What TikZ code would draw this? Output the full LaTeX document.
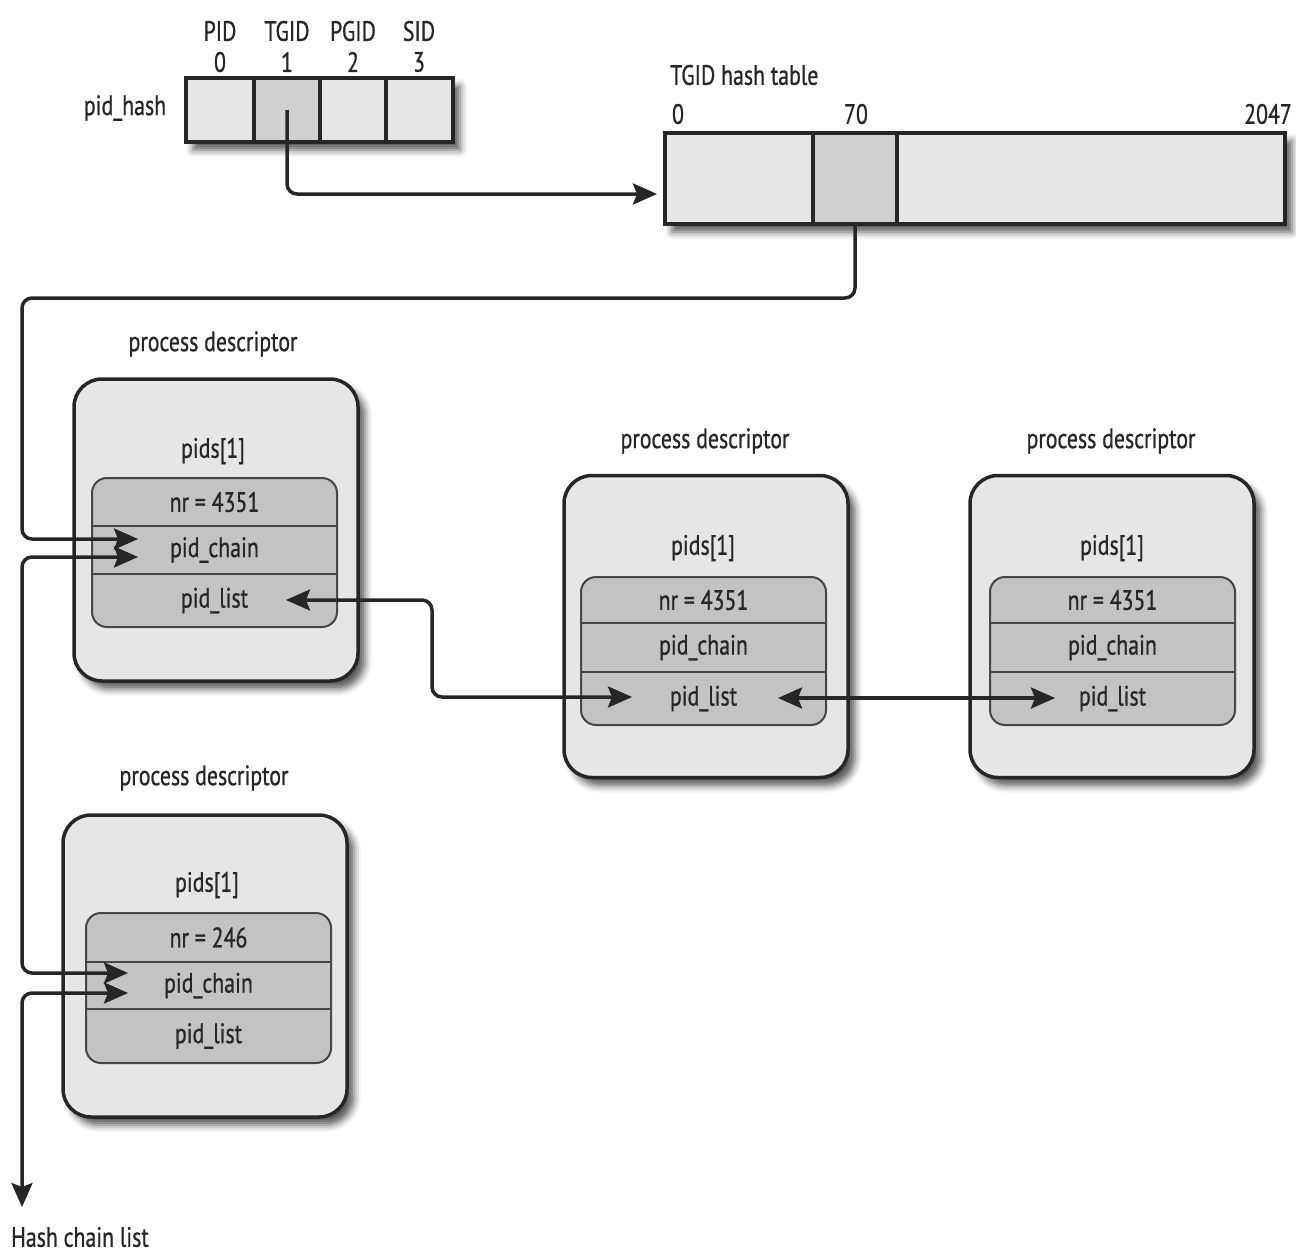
\documentclass[tikz,border=0pt]{standalone}
\usepackage{fontspec}
\setmainfont{PT Sans}[FakeStretch=0.78, FakeBold=0.8]
\usetikzlibrary{arrows.meta,shadows.blur}
\definecolor{boxfill}{HTML}{E6E6E6}
\definecolor{rowfill}{HTML}{C3C3C3}
\definecolor{selfill}{HTML}{D0D0D0}
\definecolor{ink}{HTML}{262626}
\tikzset{
  lbl/.style={font=\fontsize{28}{30}\selectfont, text=ink, inner sep=0pt},
  shad/.style={blur shadow={shadow xshift=7pt, shadow yshift=-8pt, shadow blur radius=7pt, shadow opacity=65}},
  cellbox/.style={draw=ink, line width=3.5pt, fill=boxfill, minimum height=64pt, inner sep=0pt},
  outerbox/.style={draw=ink, line width=3.5pt, fill=boxfill, rounded corners=28pt, minimum width=284pt, minimum height=302pt, inner sep=0pt, shad},
  innerbox/.style={draw=ink!85, line width=2pt, fill=rowfill, rounded corners=15pt, minimum width=245pt, inner sep=0pt},
  rowtxt/.style={lbl, minimum width=245pt},
  divider/.style={draw=ink!85, line width=2.2pt},
  conn/.style={draw=ink, line width=3.5pt, rounded corners=10pt},
  tip/.tip={Stealth[length=24pt, width=21pt, inset=4pt]}
}
\begin{document}
\begin{tikzpicture}[x=1pt, y=-1pt]
\useasboundingbox (0,0) rectangle (1296,1254);

% ---------- pid_hash ----------
\node[lbl] (hashlbl) at (125,108) {pid\_hash};
\node[draw=ink, line width=3.5pt, fill=boxfill, minimum width=267pt, minimum height=64pt, inner sep=0pt, shad] (hashbox) at (319.5,110) {};
\node[cellbox, minimum width=68pt] (h0) at (220,110) {};
\node[cellbox, minimum width=66pt, fill=selfill] (h1) at (287,110) {};
\node[cellbox, minimum width=66pt] (h2) at (353,110) {};
\node[cellbox, minimum width=67pt] (h3) at (419.5,110) {};
\node[lbl] (hl0) at (220,31) {PID};
\node[lbl] (hl1) at (287,31) {TGID};
\node[lbl] (hl2) at (353,31) {PGID};
\node[lbl] (hl3) at (419,31) {SID};
\node[lbl] (hn0) at (220,62) {0};
\node[lbl] (hn1) at (287,62) {1};
\node[lbl] (hn2) at (353,62) {2};
\node[lbl] (hn3) at (419,62) {3};

% ---------- TGID hash table ----------
\node[lbl, anchor=west] (ttitle) at (670,75) {TGID hash table};
\node[draw=ink, line width=3.5pt, fill=boxfill, minimum width=620pt, minimum height=91pt, inner sep=0pt, shad] (tab) at (975,178.5) {};
\node[cellbox, minimum width=148pt, minimum height=91pt] (t0) at (739,178.5) {};
\node[cellbox, minimum width=84pt, minimum height=91pt, fill=selfill] (t70) at (855,178.5) {};
\node[cellbox, minimum width=388pt, minimum height=91pt] (tend) at (1091,178.5) {};
\node[lbl] (tn0) at (678,114) {0};
\node[lbl] (tn70) at (856,114) {70};
\node[lbl] (tn2047) at (1268,114) {2047};

% ---------- process descriptor 1 ----------
\node[lbl] (pdl1) at (213,344) {process descriptor};
\node[outerbox] (pd1) at (216,530) {};
\node[lbl] (pids1) at (213,451) {pids[1]};
\node[innerbox, minimum height=149pt] (in1) at (214.5,552.5) {};
\node[rowtxt, minimum height=48pt] (nr1) at (214.5,502) {nr = 4351};
\node[rowtxt, minimum height=48pt] (ch1) at (214.5,550) {pid\_chain};
\node[rowtxt, minimum height=53pt] (li1) at (214.5,600.5) {pid\_list};
\draw[divider] (92,526) -- (337,526);
\draw[divider] (92,574) -- (337,574);

% ---------- process descriptor 2 ----------
\node[lbl] (pdl2) at (705,441) {process descriptor};
\node[outerbox] (pd2) at (706,626.5) {};
\node[lbl] (pids2) at (703,548) {pids[1]};
\node[innerbox, minimum height=148pt] (in2) at (703.5,651) {};
\node[rowtxt, minimum height=46pt] (nr2) at (703.5,600) {nr = 4351};
\node[rowtxt, minimum height=49pt] (ch2) at (703.5,647.5) {pid\_chain};
\node[rowtxt, minimum height=53pt] (li2) at (703.5,698.5) {pid\_list};
\draw[divider] (581,623) -- (826,623);
\draw[divider] (581,672) -- (826,672);

% ---------- process descriptor 3 ----------
\node[lbl] (pdl3) at (1111,441) {process descriptor};
\node[outerbox] (pd3) at (1112,626.5) {};
\node[lbl] (pids3) at (1112,548) {pids[1]};
\node[innerbox, minimum height=148pt] (in3) at (1112.5,651) {};
\node[rowtxt, minimum height=46pt] (nr3) at (1112.5,600) {nr = 4351};
\node[rowtxt, minimum height=49pt] (ch3) at (1112.5,647.5) {pid\_chain};
\node[rowtxt, minimum height=53pt] (li3) at (1112.5,698.5) {pid\_list};
\draw[divider] (990,623) -- (1235,623);
\draw[divider] (990,672) -- (1235,672);

% ---------- process descriptor 4 ----------
\node[lbl] (pdl4) at (204,778) {process descriptor};
\node[outerbox] (pd4) at (205,966) {};
\node[lbl] (pids4) at (207,885) {pids[1]};
\node[innerbox, minimum height=150pt] (in4) at (208.5,988) {};
\node[rowtxt, minimum height=49pt] (nr4) at (208.5,937.5) {nr = 246};
\node[rowtxt, minimum height=47pt] (ch4) at (208.5,985.5) {pid\_chain};
\node[rowtxt, minimum height=54pt] (li4) at (208.5,1036) {pid\_list};
\draw[divider] (86,962) -- (331,962);
\draw[divider] (86,1009) -- (331,1009);

\node[lbl, anchor=west] (hcl) at (11,1237) {Hash chain list};

% ---------- connectors ----------
\coordinate (a1) at (657,194);
\coordinate (b1) at (22,298);
\coordinate (b2) at (138,539);
\coordinate (c1) at (138,557);
\coordinate (c2) at (22,760);
\coordinate (c3) at (128,973);
\coordinate (d1) at (128,993);
\coordinate (d2) at (22,1207);
\coordinate (e1) at (286,600);
\coordinate (e2) at (432,650);
\coordinate (e3) at (632,697);
\coordinate (f1) at (778,698);
\coordinate (f2) at (1055,698);

\draw[conn, -{tip}] (h1.center) |- (a1);
\draw[conn, -{tip}] (t70.south) |- (b1) |- (b2);
\draw[conn, {tip}-{tip}] (c1) -| (c2) |- (c3);
\draw[conn, {tip}-{tip}] (d1) -| (d2);
\draw[conn, {tip}-{tip}] (e1) -| (e2) |- (e3);
\draw[conn, {tip}-{tip}] (f1) -- (f2);
\end{tikzpicture}
\end{document}
